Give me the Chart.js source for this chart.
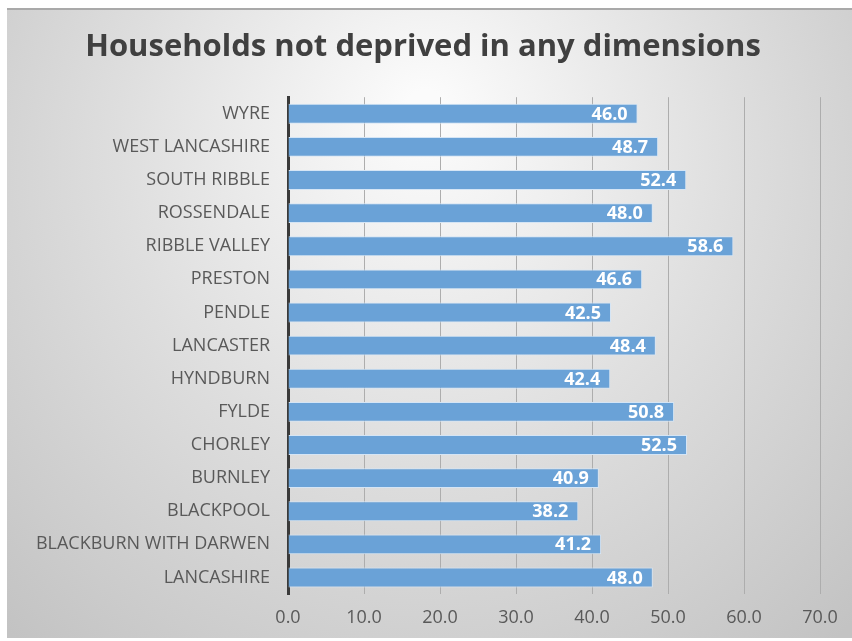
<!DOCTYPE html>
<html lang="en">
<head>
    <meta charset="UTF-8">
    <title>Households not deprived in any dimensions</title>
    <style>
        body { margin: 0; background: #ffffff; }
        #chart-container { width: 852px; height: 641px; }
    </style>
</head>
<body>
    <div id="chart-container">
        <canvas id="households-chart"></canvas>
    </div>
    <script src="https://cdn.jsdelivr.net/npm/chart.js@4"></script>
    <script>
        const areas = ['WYRE', 'WEST LANCASHIRE', 'SOUTH RIBBLE', 'ROSSENDALE', 'RIBBLE VALLEY',
            'PRESTON', 'PENDLE', 'LANCASTER', 'HYNDBURN', 'FYLDE', 'CHORLEY', 'BURNLEY',
            'BLACKPOOL', 'BLACKBURN WITH DARWEN', 'LANCASHIRE'];
        const notDeprived = [46.0, 48.7, 52.4, 48.0, 58.6, 46.6, 42.5, 48.4, 42.4, 50.8, 52.5, 40.9, 38.2, 41.2, 48.0];
        const xTicks = [0, 10, 20, 30, 40, 50, 60, 70];

        const fontFamily = '"Open Sans", "DejaVu Sans", sans-serif';

        // grey gradient panel behind the whole chart
        const panelBackground = {
            id: 'panelBackground',
            beforeDraw(chart) {
                const { ctx, width, height } = chart;
                ctx.save();
                ctx.fillStyle = '#ffffff';
                ctx.fillRect(0, 0, width, height);
                const g = ctx.createRadialGradient(426, 110, 20, 426, 200, 600);
                g.addColorStop(0, '#fbfbfb');
                g.addColorStop(0.5, '#dedede');
                g.addColorStop(1, '#c3c3c3');
                ctx.fillStyle = g;
                ctx.fillRect(7, 8, width - 7, height - 11);
                ctx.fillStyle = '#a9a9a9';
                ctx.fillRect(7, 8, width - 7, 2);
                ctx.restore();
            }
        };

        // value labels at the inside end of each bar
        const barValues = {
            id: 'barValues',
            afterDatasetsDraw(chart) {
                const { ctx } = chart;
                const meta = chart.getDatasetMeta(0);
                ctx.save();
                ctx.font = 'bold 18px ' + fontFamily;
                ctx.fillStyle = '#ffffff';
                ctx.textAlign = 'right';
                ctx.textBaseline = 'middle';
                meta.data.forEach((bar, i) => {
                    ctx.fillText(notDeprived[i].toFixed(1), bar.x - 10, bar.y + 1);
                });
                ctx.restore();
            }
        };

        const ctx = document.getElementById('households-chart').getContext('2d');
        new Chart(ctx, {
            type: 'bar',
            data: {
                labels: areas,
                datasets: [{
                    data: notDeprived,
                    backgroundColor: '#6aa2d7',
                    borderColor: '#d5e5f5',
                    borderWidth: 1,
                    barPercentage: 0.6,
                    categoryPercentage: 1
                }]
            },
            options: {
                indexAxis: 'y',
                responsive: true,
                maintainAspectRatio: false,
                animation: false,
                layout: { padding: { left: 26, right: 32, top: 0, bottom: 0 } },
                plugins: {
                    legend: { display: false },
                    tooltip: { enabled: false },
                    title: {
                        display: true,
                        text: 'Households not deprived in any dimensions',
                        color: '#404040',
                        font: { family: fontFamily, size: 31, weight: 'bold', lineHeight: 1.2 },
                        padding: { top: 29, bottom: 31 }
                    }
                },
                scales: {
                    x: {
                        min: 0,
                        max: 70,
                        afterBuildTicks(scale) {
                            scale.ticks = xTicks.map(v => ({ value: v }));
                        },
                        afterFit(scale) { scale.height = 47; },
                        grid: { color: '#adadad', lineWidth: 1, drawTicks: false },
                        border: { display: false },
                        ticks: {
                            padding: 13,
                            color: '#595959',
                            font: { family: fontFamily, size: 18 },
                            callback: v => Number(v).toFixed(1)
                        }
                    },
                    y: {
                        afterFit(scale) { scale.width = 262; },
                        grid: { display: false, drawTicks: false },
                        border: { display: true, color: '#3a3a3a', width: 3 },
                        ticks: {
                            padding: 18,
                            color: '#595959',
                            font: { family: fontFamily, size: 18 }
                        }
                    }
                }
            },
            plugins: [panelBackground, barValues]
        });
    </script>
</body>
</html>
